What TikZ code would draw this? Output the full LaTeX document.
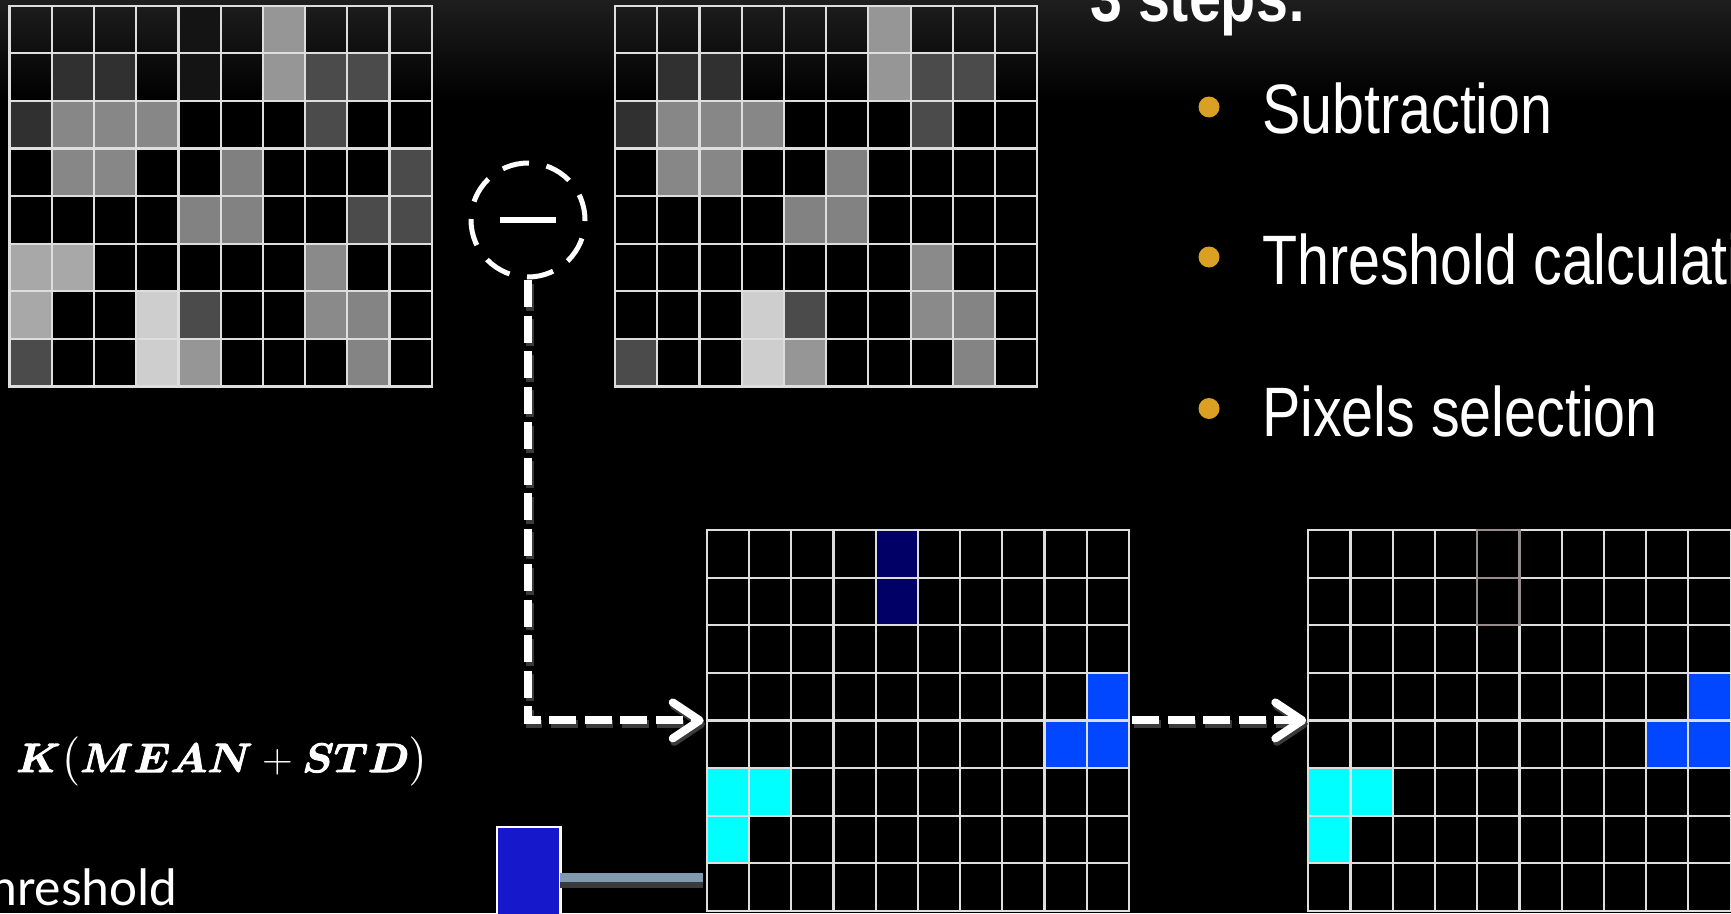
\documentclass[tikz,border=0pt]{standalone}
\usepackage{amsmath}
\usepackage{graphicx}
\usepackage{fontspec}
\usetikzlibrary{arrows.meta,calc}
\newfontfamily\narrowfont[FakeStretch=0.82]{Liberation Sans}
\newfontfamily\califont{Carlito}
\definecolor{bggray}{RGB}{30,30,30}
\definecolor{gline}{RGB}{222,222,222}
\definecolor{c14}{RGB}{20,20,20}
\definecolor{c30}{RGB}{48,48,48}
\definecolor{c4b}{RGB}{75,75,75}
\definecolor{c80}{RGB}{128,128,128}
\definecolor{c82}{RGB}{130,130,130}
\definecolor{c84}{RGB}{132,132,132}
\definecolor{c87}{RGB}{135,135,135}
\definecolor{c8a}{RGB}{138,138,138}
\definecolor{c96}{RGB}{150,150,150}
\definecolor{ca8}{RGB}{168,168,168}
\definecolor{cce}{RGB}{206,206,206}
\definecolor{pnavy}{RGB}{0,0,102}
\definecolor{pblue}{RGB}{0,71,255}
\definecolor{pcyan}{RGB}{0,255,255}
\definecolor{gold}{RGB}{218,160,36}
\definecolor{legblue}{RGB}{22,24,204}
\definecolor{legsteel}{RGB}{128,154,176}
\definecolor{shadowgray}{RGB}{58,58,58}
\definecolor{dimgrid}{RGB}{150,140,140}
\newcommand{\cellw}{42.23}
\newcommand{\cellh}{47.6}
\newcommand{\fatsym}[1]{\special{pdf:literal direct 2 Tr 0.5 w}\boldsymbol{#1}\special{pdf:literal direct 0 Tr}}
\tikzset{
  gridnode/.style={rectangle, inner sep=0pt, outer sep=0pt, minimum width=422.3pt, minimum height=380.8pt},
  gridline/.style={draw=gline, line width=2.2pt},
  dimline/.style={draw=dimgrid, line width=2.2pt},
  flow/.style={white, line width=8pt, dash pattern=on 27pt off 8.5pt,
    -{Straight Barb[length=27pt, width=36pt, round]}},
  flowshadow/.style={shadowgray, line width=8pt, dash pattern=on 27pt off 8.5pt,
    -{Straight Barb[length=27pt, width=36pt, round]}, transform canvas={shift={(1.5,3.5)}}},
  minusnode/.style={circle, draw=white, line width=5pt, dash pattern=on 27pt off 17.75pt, dash phase=1pt,
    minimum size=114pt, inner sep=0pt, outer sep=0pt, text=white},
  steptitle/.style={anchor=base west, inner sep=0pt, text=white, font=\narrowfont\bfseries\fontsize{70}{84}\selectfont},
  stepitem/.style={anchor=base west, inner sep=0pt, text=white, font=\narrowfont\fontsize{70}{84}\selectfont},
  golddot/.style={circle, fill=gold, minimum size=21pt, inner sep=0pt},
  formula/.style={anchor=base west, inner sep=0pt, text=white, font=\fontsize{20.74}{25}\selectfont},
  leftlabel/.style={anchor=base west, inner sep=0pt, text=white, font=\califont\fontsize{53}{63}\selectfont},
  legbar/.style={rectangle, fill=legblue, draw=white, line width=2.5pt, minimum width=63.4pt, minimum height=101pt, inner sep=0pt, outer sep=0pt},
  legline/.style={legsteel, line width=8.4pt},
  legshadow/.style={shadowgray, line width=6pt},
}
\newcommand{\pixgrid}[3]{%
  \node[gridnode, anchor=north west] (#1) at (#2) {};
  \foreach \pc/\pr/\pk in {#3} {
    \fill[\pk] ($(#1.north west)+(\pc*\cellw,\pr*\cellh)$) rectangle ++(\cellw,\cellh);
  }
  \foreach \ii in {1,...,9} {\draw[gridline] ($(#1.north west)+(\ii*\cellw,0)$) -- ++(0,8*\cellh);}
  \foreach \ii in {1,...,7} {\draw[gridline] ($(#1.north west)+(0,\ii*\cellh)$) -- ++(10*\cellw,0);}
  \draw[gridline] (#1.north west) rectangle (#1.south east);
}
\begin{document}
\begin{tikzpicture}[x=1pt,y=-1pt]
\useasboundingbox (0,0) rectangle (1731,913);
\clip (0,0) rectangle (1731,913);
\fill[black] (0,0) rectangle (1731,913);
\shade[top color=bggray, bottom color=black] (0,0) rectangle (1731,100);

% top-left frame
\pixgrid{g1}{9.5,5.7}{4/0/c14, 6/0/c96,
  1/1/c30, 2/1/c30, 4/1/c14, 6/1/c96, 7/1/c4b, 8/1/c4b,
  0/2/c30, 1/2/c87, 2/2/c87, 3/2/c87, 7/2/c4b,
  1/3/c87, 2/3/c87, 5/3/c80, 9/3/c4b,
  4/4/c82, 5/4/c82, 8/4/c4b, 9/4/c4b,
  0/5/ca8, 1/5/ca8, 7/5/c8a,
  0/6/ca8, 3/6/cce, 4/6/c4b, 7/6/c8a, 8/6/c84,
  0/7/c4b, 3/7/cce, 4/7/c96, 8/7/c84}

% top-middle frame
\pixgrid{g2}{615,5.7}{6/0/c96,
  1/1/c30, 2/1/c30, 6/1/c96, 7/1/c4b, 8/1/c4b,
  0/2/c30, 1/2/c87, 2/2/c87, 3/2/c87, 7/2/c4b,
  1/3/c87, 2/3/c87, 5/3/c80,
  4/4/c82, 5/4/c82,
  7/5/c8a,
  3/6/cce, 4/6/c4b, 7/6/c8a, 8/6/c84,
  0/7/c4b, 3/7/cce, 4/7/c96, 8/7/c84}

% difference frame
\pixgrid{g3}{706.7,530}{4/0/pnavy, 4/1/pnavy,
  9/3/pblue, 8/4/pblue, 9/4/pblue,
  0/5/pcyan, 1/5/pcyan, 0/6/pcyan}

% selected pixels frame
\pixgrid{g4}{1308.3,530}{9/3/pblue, 8/4/pblue, 9/4/pblue,
  0/5/pcyan, 1/5/pcyan, 0/6/pcyan}
\draw[dimline] ($(g4.north west)+(4*\cellw,0)$) rectangle ++(\cellw,2*\cellh);
\draw[dimline] ($(g4.north west)+(4*\cellw,\cellh)$) -- ++(\cellw,0);

% subtraction operator
\node[minusnode] (minus) at (528,220) {\rule[-3pt]{56pt}{6pt}};

% connectors
\draw[flowshadow, shorten <=3pt, shorten >=3pt] (minus.south) |- (g3.west);
\draw[flow, shorten <=3pt, shorten >=3pt] (minus.south) |- (g3.west);
\draw[flowshadow, shorten <=3pt, shorten >=2pt] (g3.east) -- (g4.west);
\draw[flow, shorten <=3pt, shorten >=2pt] (g3.east) -- (g4.west);

% legend bar and line
\node[legbar] (bar) at (528.7,877.5) {};
\draw[legshadow, shorten >=4pt] ($(bar.east)+(0,7.5)$) -- ($(g3.west |- bar.east)+(0,7.5)$);
\draw[legline, shorten >=4pt] (bar.east) -- (g3.west |- bar.east);

% texts
\node[formula] (form) at (16,772) {\scalebox{2.053}[1.977]{$\fatsym{K}\bigl(\fatsym{MEAN}+\fatsym{STD}\bigr)$}};
\node[leftlabel] (thr) at (-36.8,905) {Threshold};

\node[steptitle] (title) at (1090,21) {3 steps:};
\node[golddot] (b1) at (1209,107) {};
\node[golddot] (b2) at (1209,257) {};
\node[golddot] (b3) at (1209,408.5) {};
\node[stepitem] (s1) at (1262,133) {Subtraction};
\node[stepitem] (s2) at (1262,284) {Threshold calculation};
\node[stepitem] (s3) at (1262,436) {Pixels selection};
\end{tikzpicture}
\end{document}
